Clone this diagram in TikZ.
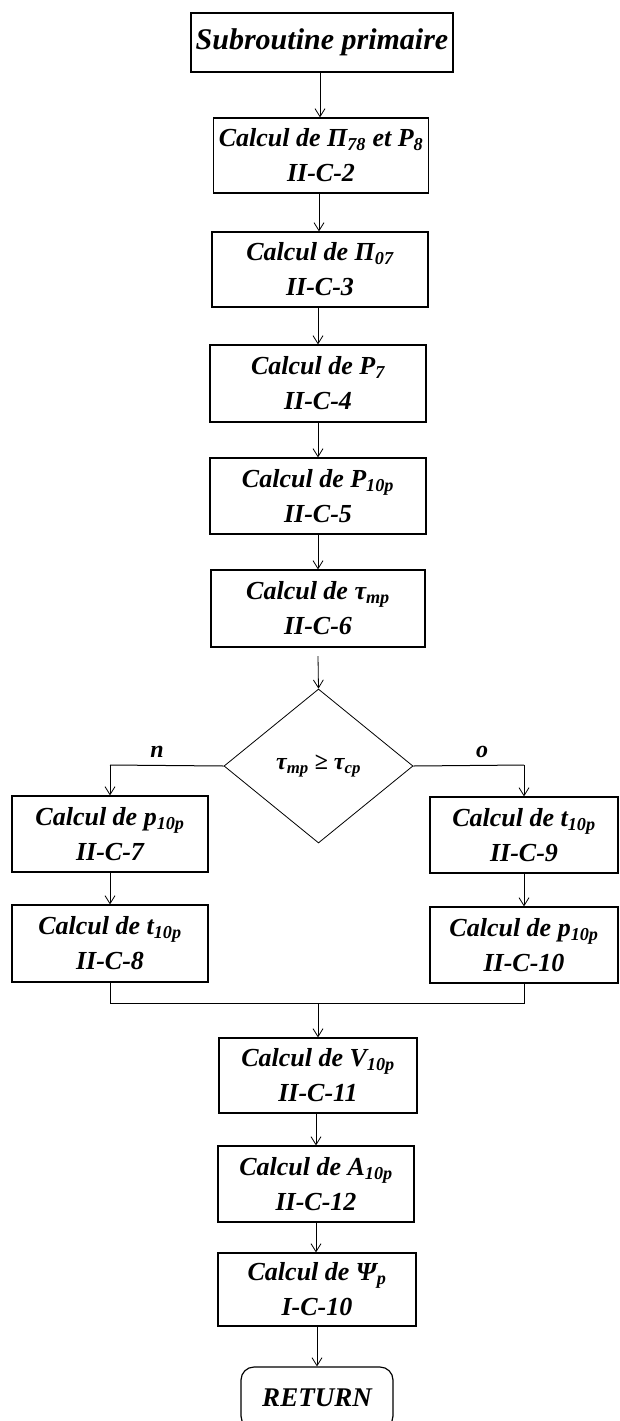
\documentclass[tikz,border=0pt]{standalone}
\usepackage{fontspec}
\setmainfont{Liberation Serif}
\usetikzlibrary{shapes.geometric,arrows.meta}

\tikzset{
  bloc/.style={draw, line width=1.2pt, align=center, inner sep=0pt,
    font=\fontsize{26}{35}\selectfont\bfseries\itshape},
  test/.style={draw, diamond, line width=0.8pt, inner sep=0pt,
    minimum width=189pt, minimum height=154pt,
    font=\fontsize{24}{30}\selectfont\bfseries\itshape},
  fleche/.style={line width=0.8pt, -{Straight Barb[length=8pt,width=10pt]}},
  trait/.style={line width=1pt},
}

\begin{document}
\begin{tikzpicture}[x=1pt,y=-1pt]
	\useasboundingbox (0,0) rectangle (619,1421);
	% colonne principale
	\node[bloc, minimum width=262pt, minimum height=59pt, font=\fontsize{30}{36}\selectfont\bfseries\itshape] at (322,42.5) (debut) {Subroutine primaire};
	\node[bloc, minimum width=215pt, minimum height=75pt] at (321,155.5) (pi78) {Calcul de Π\textsubscript{78} et P\textsubscript{8}\\II-C-2};
	\node[bloc, minimum width=216pt, minimum height=75pt] at (320,269.5) (pi07) {Calcul de Π\textsubscript{07}\\II-C-3};
	\node[bloc, minimum width=216pt, minimum height=77pt] at (318,383.5) (p7) {Calcul de P\textsubscript{7}\\II-C-4};
	\node[bloc, minimum width=216pt, minimum height=76pt] at (318,496) (p10p) {Calcul de P\textsubscript{10p}\\II-C-5};
	\node[bloc, minimum width=214pt, minimum height=77pt] at (318,608.5) (taump) {Calcul de τ\textsubscript{mp}\\II-C-6};
	\node[test] at (318.5,766) (cond) {τ\textsubscript{mp} ≥ τ\textsubscript{cp}};
	% branche n
	\node[bloc, minimum width=196pt, minimum height=76pt] at (110,834) (gp) {Calcul de p\textsubscript{10p}\\II-C-7};
	\node[bloc, minimum width=196pt, minimum height=77pt] at (110,943.5) (gt) {Calcul de t\textsubscript{10p}\\II-C-8};
	% branche o
	\node[bloc, minimum width=188pt, minimum height=76pt] at (524,835) (dt) {Calcul de t\textsubscript{10p}\\II-C-9};
	\node[bloc, minimum width=188pt, minimum height=76pt] at (524,945) (dp) {Calcul de p\textsubscript{10p}\\II-C-10};
	% suite
	\node[bloc, minimum width=198pt, minimum height=75pt] at (318,1075.5) (v10p) {Calcul de V\textsubscript{10p}\\II-C-11};
	\node[bloc, minimum width=196pt, minimum height=76pt] at (316,1184) (a10p) {Calcul de A\textsubscript{10p}\\II-C-12};
	\node[bloc, minimum width=198pt, minimum height=73pt] at (317,1289.5) (psi) {Calcul de Ψ\textsubscript{p}\\I-C-10};
	\node[bloc, minimum width=152pt, minimum height=62pt, rounded corners=13pt, font=\fontsize{27}{30}\selectfont\bfseries\itshape] at (317,1398) (fin) {RETURN};
	\node[font=\fontsize{24}{28}\selectfont\bfseries\itshape] at (157,752) (lbn) {n};
	\node[font=\fontsize{24}{28}\selectfont\bfseries\itshape] at (482,752) (lbo) {o};
	\coordinate (cn) at (110,765);
	\coordinate (co) at (524,765);
	\coordinate (jn) at (318,1003);
	% connexions
	\draw[fleche] (debut.south -| 320,0) -- (pi78.north -| 320,0);
	\draw[fleche] (pi78.south -| 319,0) -- (pi07.north -| 319,0);
	\draw[fleche] (pi07.south -| 318,0) -- (p7.north -| 318,0);
	\draw[fleche] (p7) -- (p10p);
	\draw[fleche] (p10p) -- (taump);
	\draw[fleche] (taump.south |- 0,656) -- (cond.north);
	\draw[trait] (cond.west) -- (cn);
	\draw[fleche] (cn) -- (gp.north);
	\draw[fleche] (gp) -- (gt);
	\draw[trait] (cond.east) -- (co);
	\draw[fleche] (co) -- (dt.north);
	\draw[fleche] (dt) -- (dp);
	\draw[trait] (gt.south) |- (jn);
	\draw[trait] (dp.south) |- (jn);
	\draw[fleche] (jn) -- (jn |- v10p.north);
	\draw[fleche] (v10p.south -| 316,0) -- (a10p.north -| 316,0);
	\draw[fleche] (a10p.south -| 316,0) -- (psi.north -| 316,0);
	\draw[fleche] (psi.south) -- (fin.north);
\end{tikzpicture}
\end{document}
